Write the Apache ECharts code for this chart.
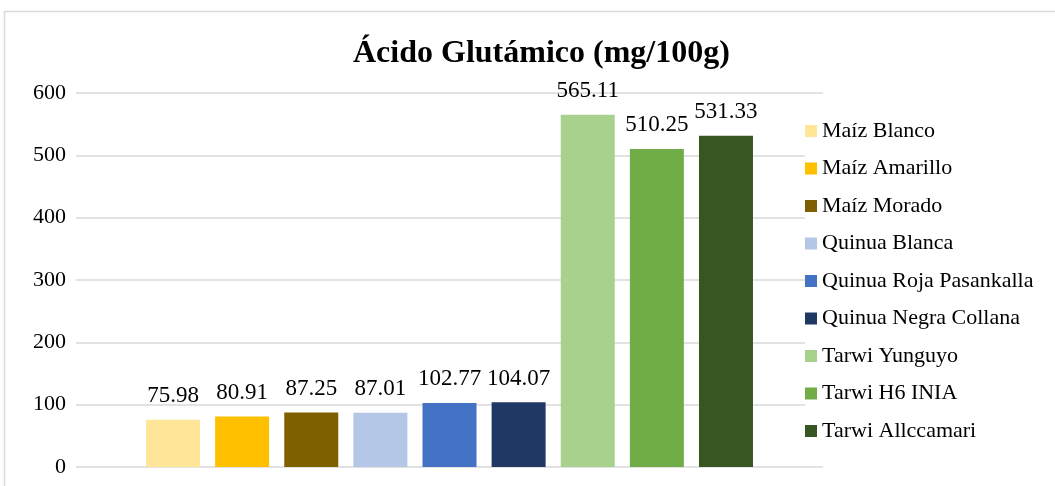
<!DOCTYPE html>
<html>
<head>
<meta charset="utf-8">
<script src="https://cdn.jsdelivr.net/npm/echarts@6/dist/echarts.min.js"></script>
<style>
  html, body { margin: 0; padding: 0; background: #fff; }
  #chart { width: 1055px; height: 486px; }
</style>
</head>
<body>
<div id="chart"></div>
<script>
// Glutamic acid content per variety (mg/100g)
const varieties = [
  'Maíz Blanco', 'Maíz Amarillo', 'Maíz Morado',
  'Quinua Blanca', 'Quinua Roja Pasankalla', 'Quinua Negra Collana',
  'Tarwi Yunguyo', 'Tarwi H6 INIA', 'Tarwi Allccamari'
];
const values = [75.98, 80.91, 87.25, 87.01, 102.77, 104.07, 565.11, 510.25, 531.33];
const colors = ['#FFE699', '#FFC000', '#7F6000', '#B4C7E7', '#4472C4', '#203864', '#A9D18E', '#70AD47', '#375623'];
const yTicks = { min: 0, max: 600, interval: 100 };
const titleText = 'Ácido Glutámico (mg/100g)';

const serif = '"Liberation Serif", "Times New Roman", serif';

const chart = echarts.init(document.getElementById('chart'));
chart.setOption({
  animation: false,
  backgroundColor: '#fff',
  graphic: [{
    type: 'rect',
    shape: { x: 4.5, y: 11.5, width: 1200, height: 600 },
    style: { fill: 'none', stroke: '#d9d9d9', lineWidth: 1.5 },
    silent: true, z: -10
  }],
  title: {
    text: titleText,
    left: 348,
    top: 33,
    textStyle: { fontFamily: serif, fontWeight: 'bold', fontSize: 32, color: '#000' }
  },
  grid: { left: 76, right: 232, top: 93, bottom: 19, containLabel: false },
  legend: {
    orient: 'vertical',
    left: 805,
    top: 115,
    padding: [5, 10, 5, 0],
    backgroundColor: '#fff',
    itemWidth: 12,
    itemHeight: 12,
    itemGap: 15.5,
    icon: 'rect',
    textStyle: { fontFamily: serif, fontSize: 22, color: '#000', lineHeight: 22 },
    data: varieties
  },
  xAxis: {
    type: 'category',
    data: [''],
    axisLine: { show: false },
    axisTick: { show: false },
    axisLabel: { show: false }
  },
  yAxis: {
    type: 'value',
    min: yTicks.min,
    max: yTicks.max,
    interval: yTicks.interval,
    axisLine: { show: false },
    axisTick: { show: false },
    axisLabel: { fontFamily: serif, fontSize: 22, color: '#000', margin: 10 },
    splitLine: { lineStyle: { color: '#d9d9d9', width: 1.5 } }
  },
  series: varieties.map((name, i) => ({
    name,
    type: 'bar',
    data: [values[i]],
    barWidth: 54,
    barGap: '28%',
    itemStyle: { color: colors[i] },
    label: {
      show: true,
      position: 'top',
      distance: 12,
      fontFamily: serif,
      fontSize: 23,
      color: '#000',
      formatter: (p) => p.value.toFixed(2)
    }
  }))
});
</script>
</body>
</html>
